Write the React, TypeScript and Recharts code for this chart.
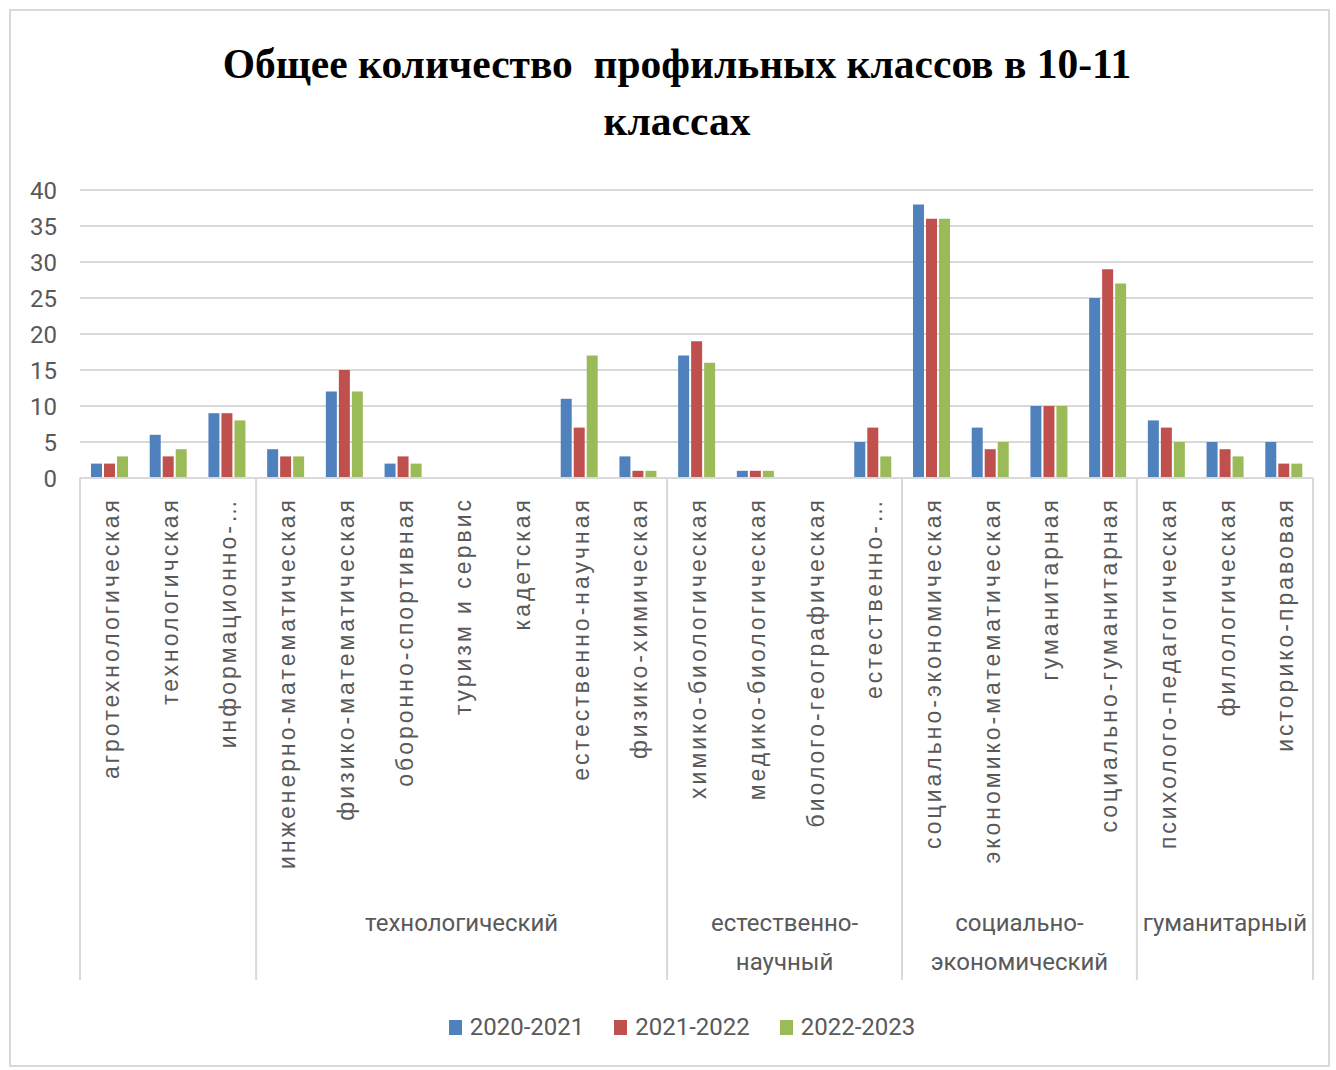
import React from 'react';
import { BarChart, Bar, XAxis, YAxis, CartesianGrid } from 'recharts';

// profile names as shown on the chart (truncated ones kept truncated)
const categories = [
    'агротехнологическая',
    'технологичская',
    'информационно-…',
    'инженерно-математическая',
    'физико-математическая',
    'оборонно-спортивная',
    'туризм и сервис',
    'кадетская',
    'естественно-научная',
    'физико-химическая',
    'химико-биологическая',
    'медико-биологическая',
    'биолого-географическая',
    'естественно-…',
    'социально-экономическая',
    'экономико-математическая',
    'гуманитарная',
    'социально-гуманитарная',
    'психолого-педагогическая',
    'филологическая',
    'историко-правовая',
];

const groupNames = ['', 'технологический', 'естественно-\nнаучный', 'социально-\nэкономический', 'гуманитарный'];
const groupSizes = [3, 7, 4, 4, 3];

const years = ['2020-2021', '2021-2022', '2022-2023'];
const colors = ['#4F81BD', '#C0504D', '#9BBB59'];

const values2020 = [2, 6, 9, 4, 12, 2, 0, 0, 11, 3, 17, 1, 0, 5, 38, 7, 10, 25, 8, 5, 5];
const values2021 = [2, 3, 9, 3, 15, 3, 0, 0, 7, 1, 19, 1, 0, 7, 36, 4, 10, 29, 7, 4, 2];
const values2022 = [3, 4, 8, 3, 12, 2, 0, 0, 17, 1, 16, 1, 0, 3, 36, 5, 10, 27, 5, 3, 2];

const yTicks = [0, 5, 10, 15, 20, 25, 30, 35, 40];

const data = categories.map((name, i) => ({
    name,
    s0: values2020[i],
    s1: values2021[i],
    s2: values2022[i],
}));

const groupStarts: number[] = [];
groupSizes.reduce((start, size) => {
    groupStarts.push(start);
    return start + size;
}, 0);

const labelFont = "'Liberation Sans', Arial, sans-serif";
const narrowFont = "'Liberation Sans Narrow', 'Arial Narrow', 'Roboto', sans-serif";
const textColor = '#595959';
const lineColor = '#d9d9d9';

const CategoryTick = (props: any) => {
    const { x, y, payload, index } = props;
    const band = payload && payload.offset ? payload.offset * 2 : (props.width || 1233) / categories.length;
    const g = groupStarts.indexOf(index);
    const ty = y + 19;
    const gx = g >= 0 ? x - band / 2 + (groupSizes[g] * band) / 2 : x;
    return (
        <g>
            <text
                x={x}
                y={ty}
                dy="0.42em"
                transform={`rotate(-90, ${x}, ${ty})`}
                textAnchor="end"
                fill={textColor}
                fontFamily={labelFont}
                fontSize={23}
                letterSpacing={3}
            >
                {payload.value}
            </text>
            {g >= 0 && (
                <line x1={x - band / 2} x2={x - band / 2} y1={y} y2={y + 502} stroke={lineColor} strokeWidth={2} />
            )}
            {index === categories.length - 1 && (
                <line x1={x + band / 2} x2={x + band / 2} y1={y} y2={y + 502} stroke={lineColor} strokeWidth={2} />
            )}
            {g >= 0 && groupNames[g] && (
                <text
                    x={gx}
                    y={y + 445}
                    textAnchor="middle"
                    fill={textColor}
                    fontFamily={narrowFont}
                    fontSize={24}
                >
                    {groupNames[g].split('\n').map((line, k) => (
                        <tspan key={k} x={gx} dy={k === 0 ? '0.35em' : 39}>
                            {line}
                        </tspan>
                    ))}
                </text>
            )}
        </g>
    );
};

const App: React.FC = () => {
    return (
        <div style={{ position: 'absolute', left: 0, top: 0, width: 1336, height: 1070, background: '#fff' }}>
            <div
                style={{
                    position: 'absolute',
                    left: 9,
                    top: 9,
                    width: 1321,
                    height: 1058,
                    border: `2px solid ${lineColor}`,
                    boxSizing: 'border-box',
                }}
            />
            <div
                style={{
                    position: 'absolute',
                    left: 0,
                    top: 36,
                    width: 1354,
                    textAlign: 'center',
                    fontFamily: "'Liberation Serif', 'Times New Roman', serif",
                    fontWeight: 'bold',
                    fontSize: 41.5,
                    lineHeight: '57px',
                    color: '#000',
                    whiteSpace: 'pre',
                }}
            >
                {'Общее количество  профильных классов в 10-11\nклассах'}
            </div>
            <div style={{ position: 'absolute', left: 0, top: 0 }}>
                <BarChart
                    width={1336}
                    height={1070}
                    data={data}
                    margin={{ top: 190, right: 23, bottom: 90, left: 0 }}
                    barCategoryGap={11}
                    barGap={2}
                >
                    <CartesianGrid vertical={false} stroke={lineColor} strokeWidth={2} />
                    <YAxis
                        domain={[0, 40]}
                        ticks={yTicks}
                        width={80}
                        axisLine={false}
                        tickLine={false}
                        tickSize={0}
                        tickMargin={23}
                        tick={{ fill: textColor, fontSize: 24, fontFamily: narrowFont }}
                    />
                    <XAxis
                        dataKey="name"
                        height={502}
                        interval={0}
                        tickLine={false}
                        tickSize={0}
                        tickMargin={0}
                        axisLine={{ stroke: lineColor, strokeWidth: 2 }}
                        tick={<CategoryTick />}
                    />
                    {years.map((year, i) => (
                        <Bar key={year} dataKey={`s${i}`} name={year} fill={colors[i]} isAnimationActive={false} />
                    ))}
                </BarChart>
            </div>
            <div
                style={{
                    position: 'absolute',
                    left: 0,
                    top: 1008,
                    width: 1364,
                    display: 'flex',
                    justifyContent: 'center',
                    gap: 30,
                    fontFamily: narrowFont,
                    fontSize: 24,
                    color: textColor,
                    lineHeight: '38px',
                }}
            >
                {years.map((year, i) => (
                    <div key={year} style={{ display: 'flex', alignItems: 'center' }}>
                        <span style={{ display: 'inline-block', width: 13, height: 15, background: colors[i], marginRight: 8 }} />
                        <span>{year}</span>
                    </div>
                ))}
            </div>
        </div>
    );
};

export default App;
